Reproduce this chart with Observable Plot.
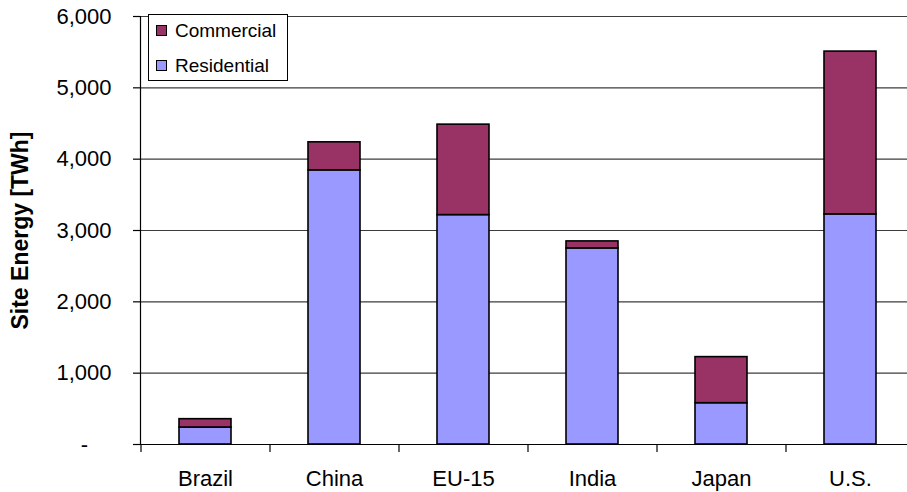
<!DOCTYPE html>
<html><head><meta charset="utf-8">
<script src="https://cdn.jsdelivr.net/npm/d3@7"></script>
<script src="https://cdn.jsdelivr.net/npm/@observablehq/plot@0.6"></script>
<style>
body{margin:0;background:#fff;font-family:"Liberation Sans",Arial,sans-serif;}
#wrap{position:relative;width:907px;height:492px;overflow:hidden;}
#legend{position:absolute;left:148px;top:14px;width:138px;height:65px;border:1px solid #000;background:#fff;font-size:19px;color:#000;}
.item{position:absolute;left:7px;height:22px;line-height:22px;white-space:nowrap;}
.sw{display:inline-block;width:9px;height:9px;border:1px solid #000;margin-right:8px;vertical-align:middle;position:relative;top:-1px;}
</style>
</head><body>
<div id="wrap"><div id="legend"></div></div>
<script>
const countries = ["Brazil", "China", "EU-15", "India", "Japan", "U.S."];
const residential = [238, 3843, 3216, 2749, 579, 3226];
const commercial = [117, 393, 1268, 98, 646, 2282];
const seriesNames = ["Residential", "Commercial"];
const seriesColors = ["#9999FF", "#993366"];
const yTicks = [0, 1000, 2000, 3000, 4000, 5000, 6000];
const yLabel = "Site Energy [TWh]";

const rows = [];
countries.forEach((c, i) => {
  rows.push({country: c, type: "Residential", value: residential[i]});
  rows.push({country: c, type: "Commercial", value: commercial[i]});
});

const chart = Plot.plot({
  width: 907,
  height: 492,
  marginLeft: 140,
  marginRight: 0,
  marginTop: 16,
  marginBottom: 48,
  style: {fontFamily: "'Liberation Sans', Arial, sans-serif", fontSize: "22px", color: "#000", background: "#fff", overflow: "visible"},
  x: {domain: countries, range: [140, 914], paddingInner: 0.6, paddingOuter: 0.3, label: null},
  y: {domain: [0, 6000], range: [444, 16], label: null},
  color: {domain: seriesNames, range: seriesColors},
  marks: [
    Plot.ruleY(yTicks.filter(d => d > 0), {stroke: "#3c3c3c", strokeWidth: 1.2}),
    Plot.barY(rows, Plot.stackY({
      x: "country", y: "value", fill: "type", z: "type",
      order: seriesNames,
      stroke: "#000", strokeWidth: 1.6
    })),
    Plot.ruleY([0], {stroke: "#000", strokeWidth: 1.2}),
    Plot.frame({anchor: "left", stroke: "#000", strokeWidth: 1.2}),
    Plot.axisY({ticks: yTicks, tickSize: 7, tickPadding: 22, tickFormat: d => d === 0 ? "" : d3.format(",")(d), stroke: "#000", strokeWidth: 1.2, label: null}),
    Plot.text(["-"], {y: () => 0, text: d => d, frameAnchor: "left", dx: -56, textAnchor: "middle", fontSize: 22}),
    Plot.axisX({tickSize: 8, tickFormat: () => "", dx: -64.5, stroke: "#000", strokeWidth: 1.2, label: null}),
    Plot.axisX({tickSize: 0, tickPadding: 26, label: null}),
    Plot.text([yLabel], {text: d => d, frameAnchor: "left", dx: -119.5, rotate: -90, textAnchor: "middle", lineAnchor: "middle", fontWeight: "bold", fontSize: 23})
  ]
});
document.getElementById("wrap").prepend(chart);

const legend = document.getElementById("legend");
const legendOrder = ["Commercial", "Residential"];
const tops = [5, 40];
legendOrder.forEach((name, i) => {
  const it = document.createElement("div");
  it.className = "item";
  it.style.top = tops[i] + "px";
  const sw = document.createElement("span");
  sw.className = "sw";
  sw.style.background = seriesColors[seriesNames.indexOf(name)];
  it.appendChild(sw);
  it.appendChild(document.createTextNode(name));
  legend.appendChild(it);
});
</script>
</body></html>
